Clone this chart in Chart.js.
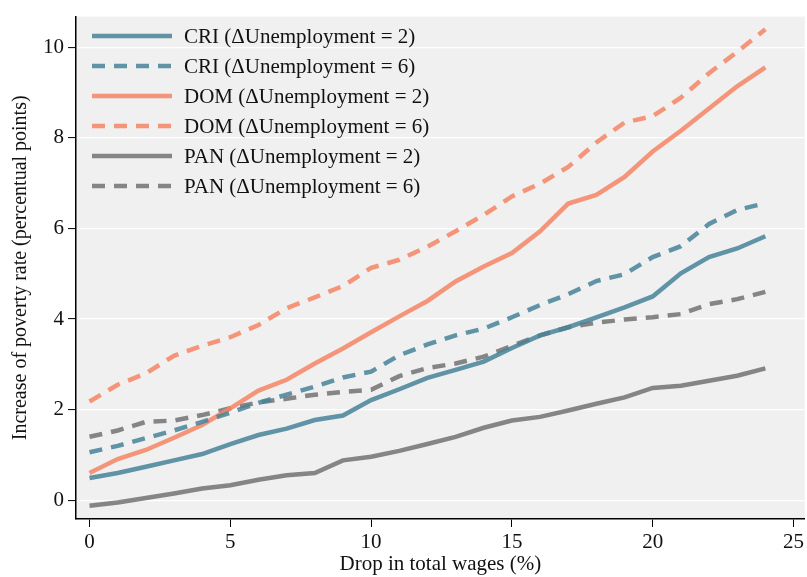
<!DOCTYPE html>
<html>
<head>
<meta charset="utf-8">
<script src="https://cdn.jsdelivr.net/npm/chart.js@4/dist/chart.umd.min.js"></script>
<style>
  html, body { margin: 0; padding: 0; background: #fff; }
  #wrap { width: 807px; height: 577px; }
</style>
</head>
<body>
<div id="wrap"><canvas id="c" width="807" height="577"></canvas></div>
<script>
// Drop in total wages (%)
const dropPct = [0,1,2,3,4,5,6,7,8,9,10,11,12,13,14,15,16,17,18,19,20,21,22,23,24];

// Increase of poverty rate (percentual points)
const criU2 = [0.49,0.60,0.74,0.88,1.02,1.24,1.44,1.58,1.77,1.87,2.21,2.45,2.70,2.88,3.06,3.36,3.64,3.82,4.04,4.26,4.50,5.01,5.37,5.56,5.83];
const criU6 = [1.06,1.20,1.37,1.54,1.73,1.93,2.15,2.33,2.51,2.71,2.84,3.20,3.44,3.64,3.79,4.04,4.31,4.55,4.84,4.99,5.37,5.61,6.10,6.41,6.56];
const domU2 = [0.60,0.91,1.11,1.38,1.66,2.03,2.42,2.66,3.02,3.35,3.71,4.06,4.40,4.83,5.16,5.46,5.94,6.55,6.74,7.14,7.70,8.16,8.65,9.14,9.56];
const domU6 = [2.18,2.55,2.80,3.19,3.41,3.60,3.87,4.24,4.48,4.73,5.13,5.31,5.60,5.94,6.30,6.71,6.99,7.36,7.90,8.34,8.48,8.89,9.43,9.90,10.40];
const panU2 = [-0.12,-0.05,0.05,0.15,0.26,0.33,0.45,0.55,0.60,0.88,0.96,1.09,1.24,1.40,1.60,1.76,1.84,1.98,2.13,2.27,2.48,2.53,2.64,2.75,2.91];
const panU6 = [1.40,1.54,1.73,1.76,1.88,2.03,2.16,2.24,2.33,2.39,2.44,2.74,2.92,3.02,3.17,3.41,3.64,3.82,3.92,3.99,4.04,4.11,4.33,4.44,4.60];

const xTicks = [0,5,10,15,20,25];
const yTicks = [0,2,4,6,8,10];

const seriesLabels = [
  'CRI (\u0394Unemployment = 2)',
  'CRI (\u0394Unemployment = 6)',
  'DOM (\u0394Unemployment = 2)',
  'DOM (\u0394Unemployment = 6)',
  'PAN (\u0394Unemployment = 2)',
  'PAN (\u0394Unemployment = 6)'
];

const CRI = 'rgba(69,131,152,0.85)';
const DOM = 'rgba(244,133,101,0.85)';
const PAN = 'rgba(114,114,114,0.85)';
const DASH = [13, 9];
const FONT = "'Liberation Serif', 'Times New Roman', serif";
const FSIZE = 21;

function pts(ys) { return dropPct.map((x, i) => ({ x: x, y: ys[i] })); }

function ds(label, ys, color, dashed) {
  return {
    label: label,
    data: pts(ys),
    borderColor: color,
    backgroundColor: color,
    borderWidth: 4.5,
    borderDash: dashed ? DASH : [],
    pointRadius: 0,
    tension: 0,
    fill: false
  };
}

// Grey plotting panel behind the lines
const panelBg = {
  id: 'panelBg',
  beforeDraw(chart) {
    const a = chart.chartArea, ctx = chart.ctx;
    ctx.save();
    ctx.fillStyle = '#f0f0f0';
    ctx.fillRect(a.left, a.top, a.right - a.left, a.bottom - a.top);
    ctx.restore();
  }
};

// Legend drawn inside the plotting panel, upper-left, one entry per row
const innerLegend = {
  id: 'innerLegend',
  afterDatasetsDraw(chart) {
    const ctx = chart.ctx;
    const x0 = 92, lineLen = 80, textX = 184, y0 = 36, rowH = 30;
    ctx.save();
    chart.data.datasets.forEach((d, i) => {
      const y = y0 + i * rowH;
      ctx.strokeStyle = d.borderColor;
      ctx.lineWidth = d.borderWidth;
      ctx.setLineDash(d.borderDash || []);
      ctx.lineCap = 'butt';
      ctx.beginPath();
      ctx.moveTo(x0, y);
      ctx.lineTo(x0 + lineLen, y);
      ctx.stroke();
      ctx.setLineDash([]);
      ctx.fillStyle = '#111';
      ctx.font = FSIZE + 'px ' + FONT;
      ctx.textBaseline = 'middle';
      ctx.textAlign = 'left';
      ctx.fillText(d.label, textX, y + 1);
    });
    ctx.restore();
  }
};

new Chart(document.getElementById('c'), {
  type: 'line',
  data: {
    datasets: [
      ds(seriesLabels[0], criU2, CRI, false),
      ds(seriesLabels[1], criU6, CRI, true),
      ds(seriesLabels[2], domU2, DOM, false),
      ds(seriesLabels[3], domU6, DOM, true),
      ds(seriesLabels[4], panU2, PAN, false),
      ds(seriesLabels[5], panU6, PAN, true)
    ]
  },
  options: {
    responsive: false,
    animation: false,
    devicePixelRatio: 1,
    layout: { padding: { top: 11, right: 0, left: 0, bottom: 0 } },
    plugins: {
      legend: { display: false },
      tooltip: { enabled: false }
    },
    scales: {
      x: {
        type: 'linear',
        min: -0.48,
        max: 25.4,
        afterBuildTicks(scale) { scale.ticks = xTicks.map(v => ({ value: v })); },
        afterFit(scale) { scale.height = 58; },
        grid: { drawOnChartArea: false, tickColor: '#000', tickLength: 8, tickWidth: 1 },
        border: { color: '#000', width: 1.5 },
        ticks: { color: '#111', font: { family: FONT, size: FSIZE }, padding: 3, maxRotation: 0 },
        title: { display: true, text: 'Drop in total wages (%)', color: '#111', font: { family: FONT, size: FSIZE }, padding: { top: 0, bottom: 0 } }
      },
      y: {
        type: 'linear',
        min: -0.415,
        max: 10.68,
        afterBuildTicks(scale) { scale.ticks = yTicks.map(v => ({ value: v })); },
        afterFit(scale) { scale.width = 76; },
        grid: { color: '#ffffff', lineWidth: 1.2, tickColor: '#000', tickLength: 8, tickWidth: 1 },
        border: { color: '#000', width: 1.5 },
        ticks: { color: '#111', font: { family: FONT, size: FSIZE }, padding: 4 },
        title: { display: true, text: 'Increase of poverty rate (percentual points)', color: '#111', font: { family: FONT, size: 20 }, padding: { top: 9, bottom: 6 } }
      }
    }
  },
  plugins: [panelBg, innerLegend]
});
</script>
</body>
</html>
